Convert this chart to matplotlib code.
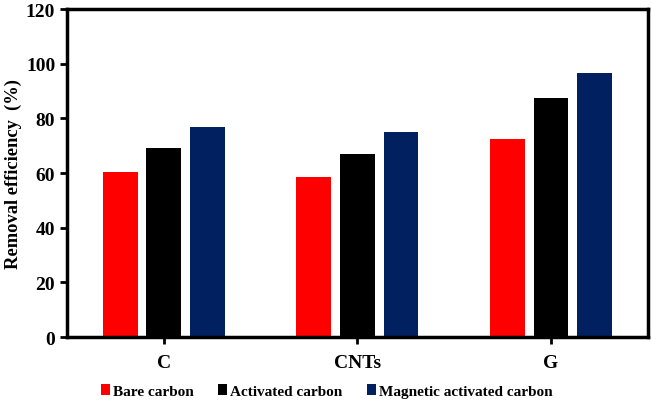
import matplotlib.pyplot as plt
import numpy as np

plt.rcParams['font.family'] = ['Liberation Serif', 'DejaVu Serif']
plt.rcParams['font.weight'] = 'bold'

categories = ["C", "CNTs", "G"]
series_names = ["Bare carbon", "Activated carbon", "Magnetic activated carbon"]
bare = [60.5, 58.5, 72.5]
activated = [69.0, 67.0, 87.5]
magnetic = [77.0, 75.0, 96.5]
colors = ["#ff0000", "#000000", "#002060"]

fig = plt.figure(figsize=(6.51, 4.02), dpi=100)
ax = fig.add_axes([0.103, 0.159, 0.892, 0.816])

x = np.arange(len(categories))
w = 0.18
step = 0.225
for i, (vals, name, c) in enumerate(zip([bare, activated, magnetic], series_names, colors)):
    ax.bar(x + (i - 1) * step, vals, width=w, color=c, label=name)

ax.set_xlim(-0.5, 2.5)
ax.set_ylim(0, 120)
ax.set_yticks(np.arange(0, 121, 20))
ax.set_xticks(x)
ax.set_xticklabels(categories)
ax.tick_params(axis='both', direction='out', width=2, length=5, labelsize=14)
ax.tick_params(axis='x', pad=7)
for s in ax.spines.values():
    s.set_linewidth(2.5)
for lab in ax.get_xticklabels() + ax.get_yticklabels():
    lab.set_fontweight('bold')

ax.set_ylabel("Removal efficiency  (%)", fontsize=13.3, fontweight='bold', labelpad=3)

ax.legend(loc='center', bbox_to_anchor=(0.447, -0.165), ncol=3, frameon=False,
          prop={'size': 11, 'weight': 'bold'}, handlelength=0.6, handleheight=0.7,
          handletextpad=0.2, columnspacing=1.6, borderpad=0)

plt.savefig("out.png", dpi=100)
